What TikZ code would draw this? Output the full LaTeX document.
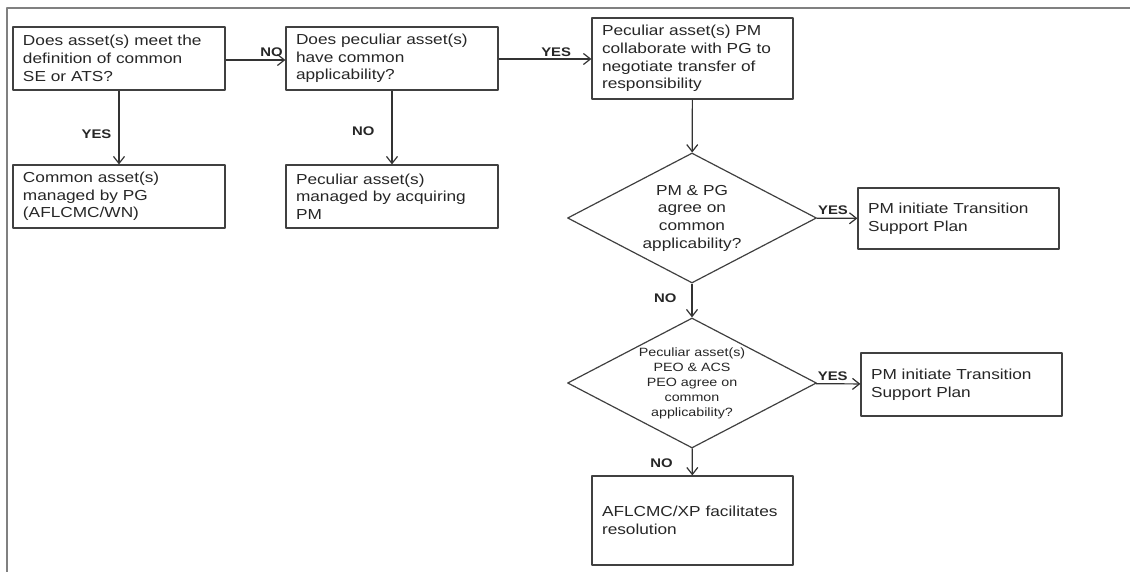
\documentclass[tikz,border=0pt]{standalone}
\usepackage{fontspec}
\setmainfont{Liberation Sans}[FakeStretch=1.19]
\usetikzlibrary{arrows.meta,shapes.geometric}

\begin{document}
\begin{tikzpicture}[x=1pt, y=-1pt, font=\fontsize{14.5}{17.7}\selectfont, line join=round, >={Straight Barb[length=7pt,width=11pt]},
	box/.style={draw=black!75, line width=1.2pt, text=black!85, align=left, inner xsep=10pt, inner ysep=0pt},
	decision/.style={draw=black!75, line width=1.2pt, text=black!85, shape=diamond, aspect=1.915, minimum width=249pt, minimum height=130pt, inner sep=0pt, align=center},
	flow/.style={->, draw=black!80, line width=1.2pt},
	answer/.style={font=\fontsize{12.5}{14}\selectfont\bfseries, text=black!85, inner sep=1pt}]
		\useasboundingbox (0,0) rectangle (1130,572);
		% frame
		\draw[gray, line width=1.5pt] (7,572) -- (7,8) -- (1130,8);
		% boxes
		\node[box, text width=192pt, minimum height=63pt] (meet) at (119,58.5) {Does asset(s) meet the\\definition of common\\SE or ATS?};
		\node[box, text width=192pt, minimum height=63pt] (common) at (119,196.5) {Common asset(s)\\managed by PG\\(AFLCMC/WN)};
		\node[box, text width=192pt, minimum height=63pt] (peculiar) at (392,58.5) {Does peculiar asset(s)\\have common\\applicability?};
		\node[box, text width=192pt, minimum height=63pt] (acquire) at (392,196.5) {Peculiar asset(s)\\managed by acquiring\\PM};
		\node[box, text width=181pt, minimum height=81pt] (negotiate) at (692.5,58.5) {Peculiar asset(s) PM\\collaborate with PG to\\negotiate transfer of\\responsibility};
		\node[decision] (agree) at (692,218) {PM \& PG\\agree on\\common\\applicability?};
		\node[box, text width=181pt, minimum height=61pt] (plana) at (958.5,218.5) {PM initiate Transition\\Support Plan};
		\node[decision, font=\fontsize{12}{15}\selectfont] (peo) at (692,383) {Peculiar asset(s)\\PEO \& ACS\\PEO agree on\\common\\applicability?};
		\node[box, text width=181pt, minimum height=63pt] (planb) at (961.5,384.5) {PM initiate Transition\\Support Plan};
		\node[box, text width=181pt, minimum height=89pt] (xp) at (692.5,520.5) {AFLCMC/XP facilitates\\resolution};
		% arrows
		\draw[flow] (meet.east |- 0,60) -- (peculiar.west |- 0,60) node[answer, pos=0.77, above=2pt]{NO};
		\draw[flow] (meet) -- (common) node[answer, pos=0.59, left=6pt]{YES};
		\draw[flow] (peculiar.east |- 0,59) -- (negotiate.west |- 0,59) node[answer, pos=0.62, above=1pt]{YES};
		\draw[flow] (peculiar) -- (acquire) node[answer, pos=0.55, left=16pt]{NO};
		\draw[flow] (negotiate) -- (agree);
		\draw[flow] (agree) -- (plana) node[answer, pos=0.4, above=2pt]{YES};
		\draw[flow] (agree) -- (peo) node[answer, pos=0.43, left=14pt]{NO};
		\draw[flow] (peo) -- (planb) node[answer, pos=0.38, above=2pt]{YES};
		\draw[flow] (peo) -- (xp) node[answer, pos=0.54, left=18pt]{NO};
\end{tikzpicture}
\end{document}
